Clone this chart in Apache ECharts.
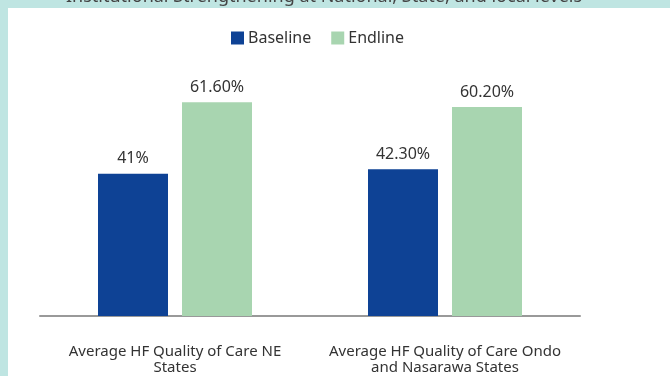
<!DOCTYPE html>
<html><head><meta charset="utf-8">
<script src="https://cdn.jsdelivr.net/npm/echarts@6/dist/echarts.min.js"></script>
<style>html,body{margin:0;padding:0;background:#fff}#c{width:670px;height:376px}</style>
</head><body><div id="c"></div>
<script>
const titleText = "Institutional Strengthening at National, State, and local levels";
const categories = ["Average HF Quality of Care NE\nStates", "Average HF Quality of Care Ondo\nand Nasarawa States"];
const seriesNames = ["Baseline", "Endline"];
const baseline = [41, 42.3];
const endline = [61.6, 60.2];
const baselineLabels = ["41%", "42.30%"];
const endlineLabels = ["61.60%", "60.20%"];

const FONT = "Noto Sans";
const chart = echarts.init(document.getElementById('c'), null, {renderer: 'canvas'});
chart.setOption({
  backgroundColor: '#bfe5e2',
  animation: false,
  graphic: [
    {type: 'text', left: 66, top: -12, z: -10, style: {text: titleText, font: '18px "' + FONT + '"', fill: '#444'}},
    {type: 'rect', shape: {x: 8, y: 8, width: 662, height: 368}, z: -5, style: {fill: '#ffffff'}}
  ],
  legend: {
    top: 25, left: 226, itemWidth: 13, itemHeight: 13, itemGap: 20,
    icon: 'rect',
    textStyle: {fontFamily: FONT, fontSize: 16, color: '#333', padding: [0, 0, 0, -1]},
    data: seriesNames
  },
  grid: {left: 40, right: 90, top: 73, bottom: 59, containLabel: false},
  xAxis: {
    type: 'category', data: categories,
    axisLine: {lineStyle: {color: '#999', width: 2}},
    axisTick: {show: false},
    axisLabel: {fontFamily: FONT, fontSize: 15, color: '#333', margin: 28, lineHeight: 16, interval: 0}
  },
  yAxis: {type: 'value', min: 0, max: 70, show: false, splitLine: {show: false}},
  series: [
    {name: seriesNames[0], type: 'bar', data: baseline, barWidth: 70, barGap: '20%',
     itemStyle: {color: '#0e4295'},
     label: {show: true, position: 'top', distance: 7, fontFamily: FONT, fontSize: 16, color: '#333',
       formatter: p => baselineLabels[p.dataIndex]}},
    {name: seriesNames[1], type: 'bar', data: endline, barWidth: 70,
     itemStyle: {color: '#a8d5b0'},
     label: {show: true, position: 'top', distance: 7, fontFamily: FONT, fontSize: 16, color: '#333',
       formatter: p => endlineLabels[p.dataIndex]}}
  ]
});
</script></body></html>
